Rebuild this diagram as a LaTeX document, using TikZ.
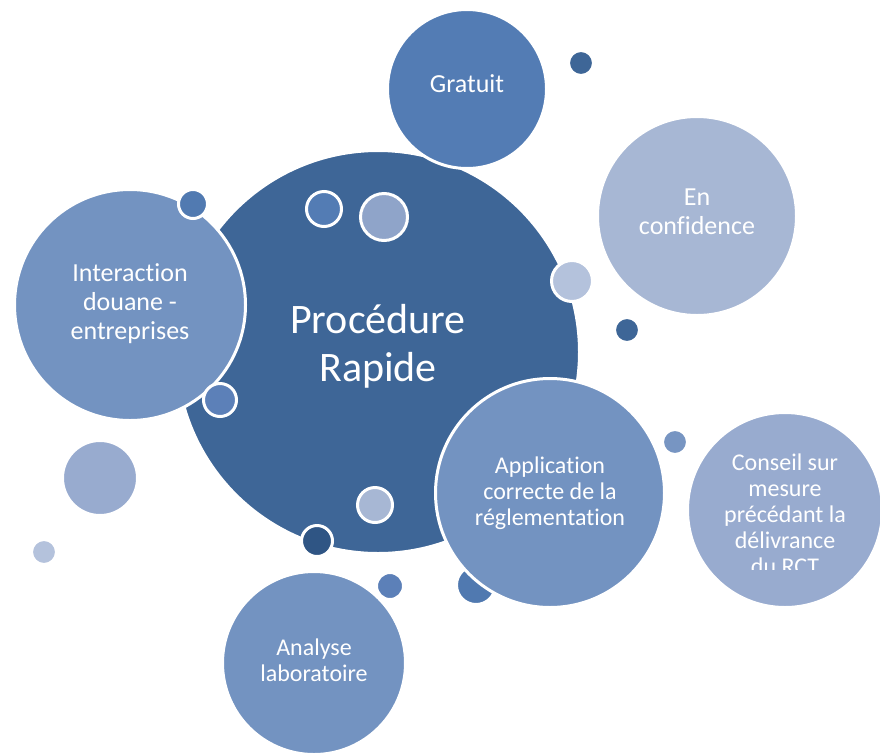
\documentclass[tikz,border=0pt]{standalone}
\usepackage{fontspec}
\setmainfont{Carlito}[Ligatures={NoCommon}]
\definecolor{cMain}{HTML}{3E6697}
\definecolor{cGratuit}{HTML}{537CB4}
\definecolor{cMid}{HTML}{7393C1}
\definecolor{cSoft}{HTML}{98ABCF}
\definecolor{cLight}{HTML}{A7B7D4}
\definecolor{cPale}{HTML}{B4C2DC}
\definecolor{cDeep}{HTML}{2F5584}
\definecolor{cDot}{HTML}{5C80B8}
\begin{document}
\begin{tikzpicture}
  [x=1pt,y=-1pt,bubble/.style={circle,draw=white,line width=3pt,inner sep=0pt},
   txt/.style={text=white,align=center,inner sep=0pt},
   big/.style={txt,font=\fontsize{26}{29}\selectfont},
   small/.style={txt,font=\fontsize{24}{26}\selectfont}]
  \useasboundingbox (0,0) rectangle (880,753);
  \node (rapide)[bubble,fill=cMain,minimum size=403,
    label={[txt,yshift=6pt,font=\fontsize{42}{48}\selectfont]center:{Procédure\\Rapide}}] at (378,352) {};
  \node (hidden)[bubble,fill=cGratuit!85!cMain,minimum size=39] at (476,585) {};
  \node (gratuit)[bubble,fill=cGratuit,minimum size=159,
    label={[big,yshift=5pt]center:Gratuit}] at (467,89) {};
  \node (confiance)[bubble,fill=cLight,minimum size=199,
    label={[big,yshift=4pt]center:{En\\confidence}}] at (697,216) {};
  \node (interaction)[bubble,fill=cMid,minimum size=231,
    label={[big,yshift=1pt]center:{Interaction\\douane -\\entreprises}}] at (130,305) {};
  \node (application)[bubble,fill=cMid,minimum size=229,
    label={[small]center:{Application\\correcte de la\\réglementation}}] at (550,493) {};
  \node (conseil)[bubble,fill=cSoft,minimum size=195] at (785,510) {};
  \begin{scope}
    \clip (680,400) rectangle (880,569.5);
    \node (conseiltxt)[small,yshift=-4pt] at (conseil) {Conseil sur\\mesure\\précédant la\\délivrance\\du RCT};
  \end{scope}
  \node (analyse)[bubble,fill=cMid,minimum size=183,
    label={[small,yshift=3pt]center:{Analyse\\laboratoire}}] at (314,663) {};
  % petites bulles
  \foreach \name/\x/\y/\d/\col in {d1/581/63/28/cMain, d2/627/330/28/cMain, d3/572/281/44/cPale,
      d4/193/204/32/cGratuit!90!cMain, d5/324/209/38/cGratuit, d6/384/217/50/cSoft!90!cMain,
      d7/220/400/36/cDot, d8/100/478/78/cSoft, d9/44/552/28/cPale, d10/375/505/38/cLight,
      d11/317/541/34/cDeep, d12/675/442/28/cMid!90!cSoft, d13/390/586/30/cDot}
    \node (\name)[bubble,fill=\col,minimum size=\d-3] at (\x,\y) {};
\end{tikzpicture}
\end{document}
